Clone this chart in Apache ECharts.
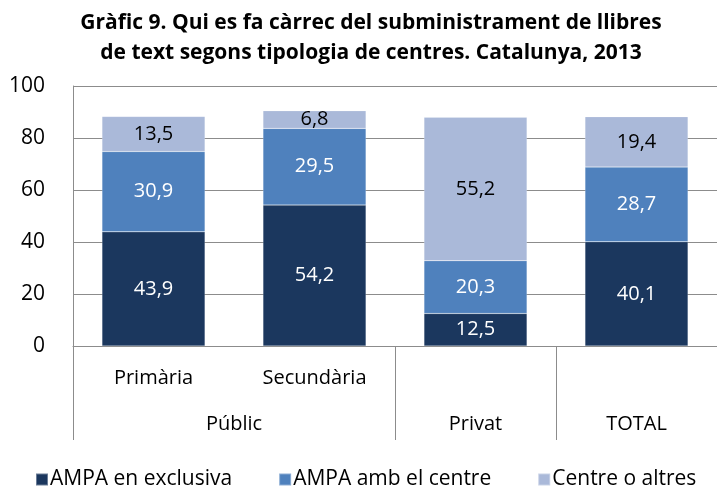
<!DOCTYPE html>
<html>
<head>
<meta charset="utf-8">
<script src="https://cdn.jsdelivr.net/npm/echarts@6/dist/echarts.min.js"></script>
<style>
  html, body { margin: 0; padding: 0; background: #fff; }
  #main { width: 717px; height: 486px; }
</style>
</head>
<body>
<div id="main"></div>
<script>
// dades del gràfic
const categories = ['Primària', 'Secundària', 'Privat', 'TOTAL'];
const subLabels = ['Primària', 'Secundària', '', ''];
const groupLabels = ['Públic', 'Privat', 'TOTAL'];
const groupCenters = [1, 2.5, 3.5];
const groupBounds = [0, 2, 3, 4];
const seriesNames = ['AMPA en exclusiva', 'AMPA amb el centre', 'Centre o altres'];
const ampaExclusiva = [43.9, 54.2, 12.5, 40.1];
const ampaCentre = [30.9, 29.5, 20.3, 28.7];
const centreAltres = [13.5, 6.8, 55.2, 19.4];

const colors = ['#1b375e', '#4f81bd', '#aab9d9'];
const labelColors = ['#fff', '#fff', '#000'];
const fontFamily = '"Open Sans", Lato, sans-serif';
const gray = '#8c8c8c';

const chart = echarts.init(document.getElementById('main'));

const seriesData = [ampaExclusiva, ampaCentre, centreAltres];

const option = {
  textStyle: { fontFamily: fontFamily },
  title: {
    text: 'Gràfic 9. Qui es fa càrrec del subministrament de llibres\nde text segons tipologia de centres. Catalunya, 2013',
    left: 366,
    top: 3,
    textAlign: 'center',
    padding: 5,
    textStyle: {
      fontFamily: fontFamily,
      fontSize: 21,
      fontWeight: 'bold',
      color: '#000',
      lineHeight: 30
    }
  },
  legend: {
    data: seriesNames,
    left: 30,
    top: 464,
    icon: 'rect',
    itemWidth: 12,
    itemHeight: 12,
    itemGap: 46,
    textStyle: { fontFamily: fontFamily, fontSize: 21, color: '#000', padding: [0, 0, 0, -3] }
  },
  grid: { left: 73, top: 86, width: 653, height: 260 },
  xAxis: [
    {
      type: 'category',
      data: categories,
      axisLine: { show: true, lineStyle: { color: gray } },
      axisTick: { show: false },
      axisLabel: {
        fontSize: 20,
        color: '#000',
        margin: 22,
        formatter: (v, i) => subLabels[i]
      }
    },
    {
      type: 'value',
      min: 0,
      max: 4,
      position: 'bottom',
      axisLine: { show: false },
      splitLine: { show: false },
      axisTick: {
        show: true,
        customValues: groupBounds,
        length: 94,
        lineStyle: { color: gray }
      },
      axisLabel: {
        customValues: groupCenters,
        fontSize: 20,
        color: '#000',
        margin: 68,
        formatter: (v) => {
          const i = groupCenters.indexOf(v);
          return i >= 0 ? groupLabels[i] : '';
        }
      }
    }
  ],
  yAxis: {
    type: 'value',
    min: 0,
    max: 100,
    interval: 20,
    axisLine: { show: true, lineStyle: { color: gray } },
    axisTick: { show: false },
    axisLabel: { fontSize: 21, color: '#000', margin: 28 },
    splitLine: { show: true, lineStyle: { color: gray, width: 1 } }
  },
  series: seriesNames.map((name, i) => ({
    name: name,
    type: 'bar',
    stack: 'total',
    xAxisIndex: 0,
    barWidth: '64%',
    data: seriesData[i],
    itemStyle: { color: colors[i], borderColor: 'rgba(255,255,255,0.35)', borderWidth: 0.5 },
    label: {
      show: true,
      position: 'inside',
      fontSize: 20,
      color: labelColors[i],
      formatter: (p) => String(p.value).replace('.', ',')
    }
  }))
};

chart.setOption(option);
</script>
</body>
</html>
